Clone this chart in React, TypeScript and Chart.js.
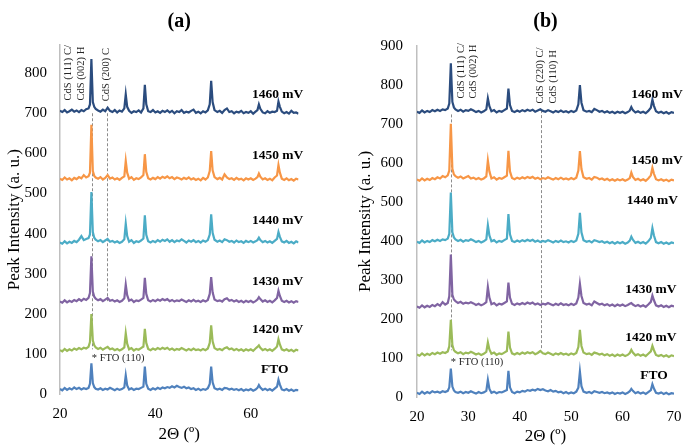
import React, { useEffect, useRef } from "react";
import { Chart, registerables } from "chart.js";
Chart.register(...registerables);

// ---------- DATA ----------
const TWO_THETA = [
  20, 20.5, 21, 21.5, 22, 22.5, 23, 23.5, 24, 24.5, 25, 25.5,
  26, 26.3, 26.6, 26.9, 27.2, 27.5, 28, 28.5, 29, 29.5, 30, 30.5,
  31, 31.5, 32, 32.5, 33, 33.5, 33.8, 34.1, 34.5, 35, 35.5, 36,
  36.5, 37, 37.5, 37.8, 38.1, 38.5, 39, 39.5, 40, 40.5, 41, 41.5,
  42, 42.5, 43, 43.5, 44, 44.5, 45, 45.5, 46, 46.5, 47, 47.5,
  48, 48.5, 49, 49.5, 50, 50.5, 51, 51.4, 51.7, 52, 52.4, 53,
  53.5, 54, 54.5, 55, 55.5, 56, 56.5, 57, 57.5, 58, 58.5, 59,
  59.5, 60, 60.5, 61, 61.4, 61.7, 62, 62.5, 63, 63.5, 64, 64.5,
  65, 65.5, 65.8, 66.1, 66.5, 67, 67.5, 68, 68.5, 69, 69.5, 70,
];

const SERIES_NAMES = ["1460 mV", "1450 mV", "1440 mV", "1430 mV", "1420 mV", "FTO"];
const SERIES_COLORS = ["#2B4C7E", "#F79646", "#4BACC6", "#8064A2", "#9BBB59", "#4F81BD"];

// Panel (a)
const A_1460 = [
  706, 703, 708, 702, 705, 709, 704, 707, 703, 708, 705, 710,
  712, 722, 835, 728, 716, 711, 707, 704, 709, 705, 714, 706,
  703, 708, 702, 707, 704, 712, 747, 716, 706, 701, 705, 703,
  707, 702, 712, 771, 722, 705, 703, 708, 702, 705, 701, 706,
  703, 707, 702, 706, 700, 705, 703, 708, 701, 704, 702, 706,
  709, 701, 704, 700, 705, 702, 707, 722, 781, 728, 708, 703,
  706, 701, 708, 712, 703, 705, 700, 704, 702, 706, 700, 703,
  701, 705, 699, 704, 708, 722, 711, 702, 700, 705, 701, 704,
  703, 706, 729, 716, 704, 700, 703, 699, 706, 701, 702, 699,
];
const A_1450 = [
  537, 534, 540, 535, 538, 533, 539, 536, 541, 538, 546, 540,
  543, 552, 671, 556, 544, 540, 537, 541, 535, 539, 546, 537,
  540, 535, 538, 534, 539, 543, 581, 552, 537, 541, 534, 538,
  536, 540, 546, 598, 554, 538, 535, 539, 536, 541, 537, 542,
  539, 543, 538, 541, 536, 540, 538, 535, 539, 536, 540, 535,
  538, 534, 537, 533, 539, 535, 540, 556, 606, 558, 541, 536,
  539, 535, 548, 540, 536, 538, 534, 539, 535, 537, 533, 538,
  535, 538, 534, 537, 541, 550, 542, 535, 538, 534, 537, 533,
  540, 545, 571, 552, 537, 534, 538, 533, 536, 532, 537, 535,
];
const A_1440 = [
  378, 375, 381, 376, 380, 377, 382, 379, 385, 394, 384, 387,
  389, 398, 504, 404, 390, 385, 381, 384, 379, 383, 387, 380,
  382, 378, 381, 377, 380, 386, 425, 394, 380, 384, 377, 381,
  379, 383, 388, 446, 397, 381, 378, 382, 379, 384, 380, 385,
  382, 386, 380, 384, 379, 383, 381, 386, 382, 378, 383, 380,
  384, 379, 382, 378, 383, 380, 384, 398, 448, 402, 385, 380,
  383, 379, 386, 384, 380, 382, 378, 383, 379, 381, 377, 382,
  379, 382, 378, 381, 384, 390, 384, 379, 382, 378, 381, 377,
  382, 387, 404, 392, 381, 378, 382, 377, 380, 376, 381, 378,
];
const A_1430 = [
  231, 228, 234, 229, 233, 230, 235, 232, 237, 233, 238, 235,
  240, 252, 344, 256, 243, 238, 234, 237, 232, 236, 240, 233,
  235, 231, 234, 230, 233, 239, 273, 247, 233, 236, 230, 234,
  232, 236, 240, 290, 250, 234, 231, 235, 232, 236, 233, 237,
  234, 237, 232, 235, 231, 234, 232, 236, 233, 230, 234, 231,
  235, 231, 233, 230, 234, 231, 235, 250, 292, 254, 236, 232,
  234, 231, 237, 239, 233, 235, 231, 234, 230, 233, 229, 233,
  230, 233, 229, 232, 236, 242, 237, 231, 234, 230, 233, 229,
  234, 240, 258, 245, 233, 230, 233, 229, 232, 228, 232, 230,
];
const A_1420 = [
  110, 107, 113, 108, 112, 109, 114, 111, 115, 112, 116, 114,
  118, 130, 200, 134, 122, 117, 113, 116, 111, 115, 118, 112,
  114, 110, 113, 109, 112, 117, 152, 126, 112, 115, 109, 113,
  111, 115, 119, 163, 128, 113, 110, 114, 111, 115, 112, 116,
  113, 116, 111, 114, 110, 113, 111, 115, 112, 109, 113, 110,
  114, 110, 112, 109, 113, 110, 114, 128, 172, 132, 115, 111,
  113, 110, 115, 117, 112, 114, 110, 113, 109, 112, 108, 112,
  109, 112, 108, 114, 118, 122, 116, 110, 113, 109, 112, 108,
  113, 119, 137, 124, 112, 109, 112, 108, 111, 107, 111, 109,
];
const A_FTO = [
  13, 10, 16, 11, 15, 12, 17, 13, 16, 12, 15, 13,
  16, 26, 77, 28, 18, 14, 12, 15, 11, 14, 12, 16,
  13, 10, 14, 11, 13, 17, 47, 22, 12, 15, 11, 14,
  13, 16, 19, 69, 26, 14, 11, 15, 12, 16, 13, 17,
  15, 18, 16, 20, 17, 21, 18, 16, 19, 15, 17, 13,
  15, 11, 14, 10, 13, 11, 15, 26, 69, 30, 15, 12,
  14, 11, 16, 15, 12, 14, 11, 13, 10, 13, 9, 12,
  10, 13, 9, 12, 16, 23, 17, 11, 14, 10, 13, 9,
  14, 19, 36, 24, 12, 10, 13, 9, 12, 8, 11, 10,
];

// Panel (b)
const B_1460 = [
  731, 728, 734, 729, 733, 730, 735, 732, 736, 733, 737, 735,
  739, 752, 855, 756, 742, 737, 733, 736, 731, 735, 733, 737,
  734, 730, 733, 729, 732, 737, 765, 745, 732, 735, 729, 733,
  731, 735, 739, 790, 748, 733, 730, 734, 731, 735, 732, 736,
  733, 736, 731, 734, 737, 733, 731, 735, 732, 729, 733, 730,
  734, 730, 732, 729, 733, 730, 734, 750, 799, 754, 735, 731,
  733, 730, 738, 735, 731, 733, 729, 732, 728, 731, 727, 731,
  728, 731, 727, 730, 734, 743, 735, 729, 732, 728, 731, 727,
  733, 741, 762, 746, 732, 728, 731, 727, 730, 726, 730, 728,
];
const B_1450 = [
  557, 554, 560, 555, 559, 556, 561, 558, 563, 560, 566, 563,
  568, 580, 700, 585, 570, 566, 562, 565, 560, 563, 566, 560,
  562, 558, 561, 557, 560, 565, 606, 578, 560, 563, 557, 561,
  559, 563, 567, 631, 578, 561, 558, 562, 559, 563, 560, 564,
  561, 564, 559, 562, 558, 561, 559, 563, 560, 557, 561, 558,
  562, 558, 560, 557, 561, 558, 562, 580, 630, 584, 563, 559,
  561, 557, 564, 562, 558, 560, 556, 559, 555, 558, 554, 558,
  555, 558, 554, 557, 561, 575, 564, 556, 559, 555, 558, 554,
  560, 568, 587, 572, 558, 555, 558, 554, 557, 553, 557, 555,
];
const B_1440 = [
  398, 395, 401, 396, 400, 397, 402, 399, 403, 400, 404, 402,
  406, 418, 524, 422, 409, 404, 400, 403, 398, 402, 400, 404,
  401, 397, 400, 396, 399, 404, 440, 414, 399, 402, 396, 400,
  398, 402, 406, 469, 417, 400, 397, 401, 398, 402, 399, 403,
  400, 403, 398, 401, 397, 400, 398, 402, 399, 396, 400, 397,
  401, 397, 399, 396, 400, 397, 401, 418, 472, 422, 402, 398,
  400, 396, 402, 400, 397, 399, 395, 398, 394, 397, 393, 397,
  394, 397, 393, 396, 401, 411, 403, 395, 398, 394, 397, 393,
  399, 408, 433, 414, 397, 394, 397, 393, 396, 392, 396, 394,
];
const B_1430 = [
  232, 229, 235, 230, 234, 231, 236, 233, 238, 234, 243, 237,
  241, 258, 365, 262, 250, 246, 241, 244, 239, 242, 240, 243,
  240, 236, 239, 235, 238, 243, 282, 255, 238, 241, 235, 239,
  237, 241, 245, 293, 255, 239, 236, 240, 237, 241, 238, 242,
  239, 242, 237, 240, 236, 239, 237, 241, 238, 235, 239, 236,
  240, 236, 238, 235, 239, 236, 240, 255, 290, 259, 241, 237,
  239, 235, 245, 241, 237, 239, 235, 238, 234, 237, 233, 237,
  234, 237, 233, 236, 239, 241, 237, 233, 236, 232, 235, 231,
  237, 244, 260, 248, 235, 232, 235, 231, 234, 230, 234, 232,
];
const B_1420 = [
  109, 106, 112, 107, 111, 108, 113, 110, 114, 111, 115, 113,
  117, 130, 198, 133, 120, 116, 112, 115, 110, 114, 112, 116,
  113, 109, 112, 108, 111, 116, 140, 122, 111, 114, 108, 112,
  110, 114, 118, 168, 127, 112, 109, 113, 110, 114, 111, 115,
  112, 115, 110, 113, 118, 112, 110, 114, 111, 108, 112, 109,
  113, 109, 111, 108, 112, 109, 113, 128, 172, 131, 114, 110,
  112, 108, 114, 112, 109, 111, 107, 110, 106, 109, 105, 109,
  106, 109, 105, 108, 113, 121, 114, 107, 110, 106, 109, 105,
  111, 117, 131, 120, 108, 105, 108, 104, 107, 103, 107, 105,
];
const B_FTO = [
  11, 8, 14, 9, 13, 10, 15, 12, 14, 11, 15, 13,
  16, 25, 73, 27, 17, 13, 11, 14, 10, 13, 11, 15,
  12, 9, 13, 10, 12, 16, 44, 21, 11, 14, 10, 13,
  12, 15, 18, 67, 25, 13, 10, 14, 12, 16, 14, 18,
  16, 19, 17, 21, 18, 20, 17, 15, 18, 14, 16, 12,
  14, 10, 13, 9, 12, 10, 14, 24, 65, 28, 14, 11,
  13, 10, 15, 13, 11, 13, 10, 12, 9, 12, 8, 11,
  9, 12, 8, 11, 15, 21, 16, 10, 13, 9, 12, 8,
  13, 18, 33, 22, 11, 9, 12, 8, 11, 7, 10, 9,
];

const A_SERIES = [A_1460, A_1450, A_1440, A_1430, A_1420, A_FTO];
const B_SERIES = [B_1460, B_1450, B_1440, B_1430, B_1420, B_FTO];

const A_X_TICKS = [20, 40, 60];
const A_Y_TICKS = [0, 100, 200, 300, 400, 500, 600, 700, 800];
const B_X_TICKS = [20, 30, 40, 50, 60, 70];
const B_Y_TICKS = [0, 100, 200, 300, 400, 500, 600, 700, 800, 900];

// ---------- ANNOTATIONS (anchored in data units) ----------
const A_SERIES_LABEL_ANCHORS = [
  { x: 71.0, y: 746 }, { x: 71.0, y: 594 }, { x: 71.0, y: 433 },
  { x: 71.0, y: 282 }, { x: 71.0, y: 161 }, { x: 67.9, y: 61 },
];
const B_SERIES_LABEL_ANCHORS = [
  { x: 71.7, y: 776 }, { x: 71.7, y: 607 }, { x: 70.8, y: 503 },
  { x: 70.5, y: 275 }, { x: 70.5, y: 152 }, { x: 68.8, y: 56 },
];
const A_GUIDES = [
  { x: 26.7, from: 700, to: 112 },
  { x: 29.8, from: 700, to: 232 },
];
const B_GUIDES = [
  { x: 26.6, from: 724, to: 120 },
  { x: 44.1, from: 735, to: 120 },
];
const A_PEAK_NOTES = [
  { text: "CdS (111) C/", x: 21.8, y: 732 },
  { text: "CdS (002) H", x: 24.5, y: 732 },
  { text: "CdS (200) C", x: 29.8, y: 730 },
];
const B_PEAK_NOTES = [
  { text: "CdS (111) C/", x: 28.7, y: 765 },
  { text: "CdS (002) H", x: 30.9, y: 765 },
  { text: "CdS (220) C/", x: 44.0, y: 752 },
  { text: "CdS (110) H", x: 46.5, y: 752 },
];
const A_FTO_NOTE = { text: "* FTO (110)", x: 26.7, y: 91 };
const B_FTO_NOTE = { text: "* FTO (110)", x: 26.6, y: 88 };

const SERIF = "'Liberation Serif', 'Times New Roman', serif";

type Panel = {
  title: string;
  series: number[][];
  xTicks: number[];
  yTicks: number[];
  yMax: number;
  labelAnchors: { x: number; y: number }[];
  guides: { x: number; from: number; to: number }[];
  notes: { text: string; x: number; y: number }[];
  ftoNote: { text: string; x: number; y: number };
  padding: { left: number; right: number; top: number; bottom: number };
  yTitlePad: { top: number; bottom: number };
  xTitlePad: { top: number; bottom: number };
  yTickPad: number;
  titlePadBottom: number;
};

const PANEL_A: Panel = {
  title: "(a)",
  series: A_SERIES,
  xTicks: A_X_TICKS,
  yTicks: A_Y_TICKS,
  yMax: 870,
  labelAnchors: A_SERIES_LABEL_ANCHORS,
  guides: A_GUIDES,
  notes: A_PEAK_NOTES,
  ftoNote: A_FTO_NOTE,
  padding: { left: 0, right: 41.5, top: 0, bottom: 2.3 },
  yTitlePad: { top: 4, bottom: -13 },
  xTitlePad: { top: -10, bottom: 0 },
  yTickPad: 13,
  titlePadBottom: 11,
};
const PANEL_B: Panel = {
  title: "(b)",
  series: B_SERIES,
  xTicks: B_X_TICKS,
  yTicks: B_Y_TICKS,
  yMax: 900,
  labelAnchors: B_SERIES_LABEL_ANCHORS,
  guides: B_GUIDES,
  notes: B_PEAK_NOTES,
  ftoNote: B_FTO_NOTE,
  padding: { left: 0, right: 11, top: 0, bottom: 0.5 },
  yTitlePad: { top: 15, bottom: -9 },
  xTitlePad: { top: -11, bottom: 0 },
  yTickPad: 14,
  titlePadBottom: 11.7,
};

function makeAnnotPlugin(p: Panel) {
  return {
    id: "xrdAnnotations",
    beforeDatasetsDraw(chart: any) {
      const { ctx, scales } = chart;
      const xs = scales.x, ys = scales.y;
      ctx.save();
      ctx.strokeStyle = "#8C8C8C";
      ctx.lineWidth = 1;
      ctx.setLineDash([3, 2]);
      for (const g of p.guides) {
        const px = Math.round(xs.getPixelForValue(g.x)) + 0.5;
        ctx.beginPath();
        ctx.moveTo(px, ys.getPixelForValue(g.from));
        ctx.lineTo(px, ys.getPixelForValue(g.to));
        ctx.stroke();
      }
      ctx.restore();
    },
    afterDatasetsDraw(chart: any) {
      const { ctx, scales } = chart;
      const xs = scales.x, ys = scales.y;
      ctx.save();
      ctx.fillStyle = "#262626";
      ctx.font = `10.5px ${SERIF}`;
      ctx.textAlign = "left";
      ctx.textBaseline = "middle";
      for (const n of p.notes) {
        ctx.save();
        ctx.translate(xs.getPixelForValue(n.x), ys.getPixelForValue(n.y));
        ctx.rotate(-Math.PI / 2);
        ctx.fillText(n.text, 0, 0);
        ctx.restore();
      }
      ctx.fillText(p.ftoNote.text, xs.getPixelForValue(p.ftoNote.x), ys.getPixelForValue(p.ftoNote.y));
      ctx.fillStyle = "#000";
      ctx.font = `bold 13.5px ${SERIF}`;
      ctx.textAlign = "right";
      SERIES_NAMES.forEach((name, i) => {
        const a = p.labelAnchors[i];
        ctx.fillText(name, xs.getPixelForValue(a.x), ys.getPixelForValue(a.y));
      });
      ctx.restore();
    },
  };
}

function XrdPanel({ panel, width }: { panel: Panel; width: number }) {
  const ref = useRef<HTMLCanvasElement | null>(null);
  useEffect(() => {
    if (!ref.current) return;
    const chart = new Chart(ref.current, {
      type: "line",
      data: {
        datasets: SERIES_NAMES.map((name, i) => ({
          label: name,
          data: TWO_THETA.map((x, j) => ({ x, y: panel.series[i][j] })),
          borderColor: SERIES_COLORS[i],
          backgroundColor: SERIES_COLORS[i],
          borderWidth: 2.2,
          pointRadius: 0,
          tension: 0,
          fill: false,
        })),
      },
      options: {
        animation: false,
        responsive: false,
        layout: { padding: panel.padding },
        plugins: {
          legend: { display: false },
          tooltip: { enabled: false },
          title: {
            display: true,
            text: panel.title,
            fullSize: false,
            color: "#000",
            font: { family: SERIF, size: 20, weight: "bold" },
            padding: { top: 10, bottom: panel.titlePadBottom },
          },
        },
        scales: {
          x: {
            type: "linear",
            min: 20,
            max: 70,
            grid: { display: false, drawTicks: false },
            border: { display: false },
            afterBuildTicks: (s: any) => {
              s.ticks = panel.xTicks.map((v) => ({ value: v }));
            },
            afterFit: (s: any) => {
              s.paddingLeft = 0;
              s.paddingRight = 0;
            },
            ticks: {
              color: "#000",
              font: { family: SERIF, size: 15 },
              padding: 11,
              maxRotation: 0,
              autoSkip: false,
            },
            title: {
              display: true,
              text: "2Θ (º)",
              color: "#000",
              font: { family: SERIF, size: 17 },
              padding: panel.xTitlePad,
            },
          },
          y: {
            type: "linear",
            min: 0,
            max: panel.yMax,
            grid: { display: false, drawTicks: false },
            border: { display: true, color: "#BFBFBF", width: 1.5 },
            afterBuildTicks: (s: any) => {
              s.ticks = panel.yTicks.map((v) => ({ value: v }));
            },
            ticks: {
              color: "#000",
              font: { family: SERIF, size: 15 },
              padding: panel.yTickPad,
              autoSkip: false,
            },
            title: {
              display: true,
              text: "Peak Intensity (a. u.)",
              color: "#000",
              font: { family: SERIF, size: 17 },
              padding: panel.yTitlePad,
            },
          },
        },
      },
      plugins: [makeAnnotPlugin(panel)],
    } as any);
    return () => chart.destroy();
  }, [panel]);
  return <canvas ref={ref} width={width} height={447} style={{ display: "block", width, height: 447 }} />;
}

export default function App() {
  return (
    <div style={{ position: "fixed", left: 0, top: 0, width: 685, height: 447, display: "flex", background: "#fff" }}>
      <XrdPanel panel={PANEL_A} width={340} />
      <XrdPanel panel={PANEL_B} width={345} />
    </div>
  );
}
